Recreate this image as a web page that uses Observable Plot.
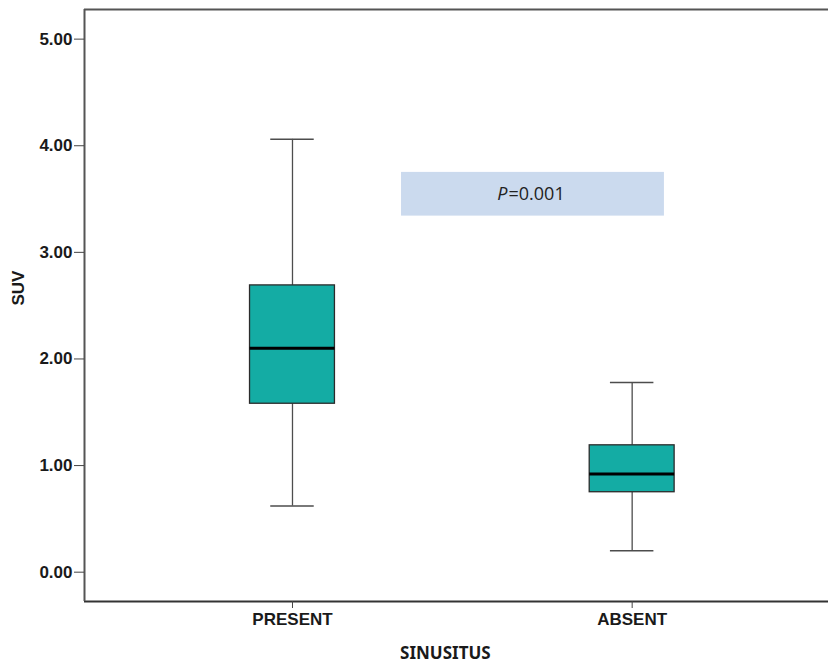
<!DOCTYPE html>
<html>
<head>
<meta charset="utf-8">
<script src="https://cdn.jsdelivr.net/npm/d3@7"></script>
<script src="https://cdn.jsdelivr.net/npm/@observablehq/plot@0.6"></script>
<style>
  html, body { margin: 0; padding: 0; background: #fff; overflow: hidden; }
  svg { display: block; }
</style>
</head>
<body>
<div id="chart"></div>
<script>
// Categories and box statistics
const categories = ["PRESENT", "ABSENT"];
const position = [1, 2];
const whiskerLow = [0.62, 0.20];
const q1 = [1.58, 0.75];
const median = [2.10, 0.92];
const q3 = [2.69, 1.19];
const whiskerHigh = [4.06, 1.78];
const yTicks = [0, 1, 2, 3, 4, 5];
const pLabel = "P";
const pValue = "=0.001";

const boxes = categories.map((c, i) => ({
  cat: c, x: position[i], lo: whiskerLow[i], q1: q1[i], med: median[i], q3: q3[i], hi: whiskerHigh[i]
}));
const boxHalf = 0.125, capHalf = 0.064;

const xDomain = [0.3877, 2.578];
const yDomain = [-0.275, 5.278];
const AX_FONT = "'Liberation Sans', Arial, sans-serif";

const chart = Plot.plot({
  width: 828,
  height: 663,
  marginLeft: 84,
  marginRight: 0,
  marginTop: 9,
  marginBottom: 62,
  x: { type: "linear", domain: xDomain },
  y: { domain: yDomain },
  style: { fontFamily: AX_FONT, background: "#fff" },
  marks: [
    // annotation box
    Plot.rect([{x1: 1.321, x2: 2.095, y1: 3.34, y2: 3.75}], {x1: "x1", x2: "x2", y1: "y1", y2: "y2", fill: "#cbdaee"}),
    // whiskers (vertical)
    Plot.ruleX(boxes, {x: "x", y1: "lo", y2: "q1", stroke: "#4d4d4d", strokeWidth: 1.3}),
    Plot.ruleX(boxes, {x: "x", y1: "q3", y2: "hi", stroke: "#4d4d4d", strokeWidth: 1.3}),
    // caps
    Plot.ruleY(boxes, {y: "lo", x1: d => d.x - capHalf, x2: d => d.x + capHalf, stroke: "#4d4d4d", strokeWidth: 1.5}),
    Plot.ruleY(boxes, {y: "hi", x1: d => d.x - capHalf, x2: d => d.x + capHalf, stroke: "#4d4d4d", strokeWidth: 1.5}),
    // boxes
    Plot.rect(boxes, {x1: d => d.x - boxHalf, x2: d => d.x + boxHalf, y1: "q1", y2: "q3", fill: "#14aca4", stroke: "#2b2b2b", strokeWidth: 1.3}),
    // medians
    Plot.ruleY(boxes, {y: "med", x1: d => d.x - boxHalf, x2: d => d.x + boxHalf, stroke: "#000", strokeWidth: 3}),
    // frame lines
    Plot.ruleY([yDomain[1]], {stroke: "#555", strokeWidth: 2}),
    Plot.ruleY([yDomain[0]], {stroke: "#333", strokeWidth: 2}),
    Plot.ruleX([xDomain[0]], {stroke: "#555", strokeWidth: 2}),
    // axes
    Plot.axisY({ticks: yTicks, tickFormat: d3.format(".2f"), tickSize: 10, tickPadding: 2, stroke: "#444",
      fontSize: 17, fontWeight: "bold", fontFamily: AX_FONT, fill: "#1a1a1a", label: null}),
    Plot.axisX({ticks: position, tickFormat: (d, i) => categories[i], tickSize: 7, tickPadding: 4, stroke: "#444",
      fontSize: 17, fontWeight: "bold", fontFamily: AX_FONT, fill: "#1a1a1a", label: null}),
    // axis titles
    Plot.text(["SUV"], {frameAnchor: "left", dx: -66, rotate: -90, fontSize: 17, fontWeight: "bold",
      fontFamily: AX_FONT, fill: "#1a1a1a"}),
    Plot.text(["SINUSITUS"], {x: [1.45], frameAnchor: "bottom", dy: 52, fontSize: 17, fontWeight: "bold",
      fontFamily: "'Noto Sans', sans-serif", fill: "#1a1a1a", lineAnchor: "middle"}),
    // p value
    Plot.text([0], {x: [1.633], y: [3.545], text: () => pLabel, textAnchor: "end", dx: 0, fontStyle: "italic", fontSize: 18,
      fontFamily: "'Open Sans', sans-serif", fill: "#222"}),
    Plot.text([0], {x: [1.633], y: [3.545], text: () => pValue, textAnchor: "start", dx: 1, fontSize: 18,
      fontFamily: "'Open Sans', sans-serif", fill: "#222"})
  ]
});
document.getElementById("chart").appendChild(chart);
</script>
</body>
</html>
